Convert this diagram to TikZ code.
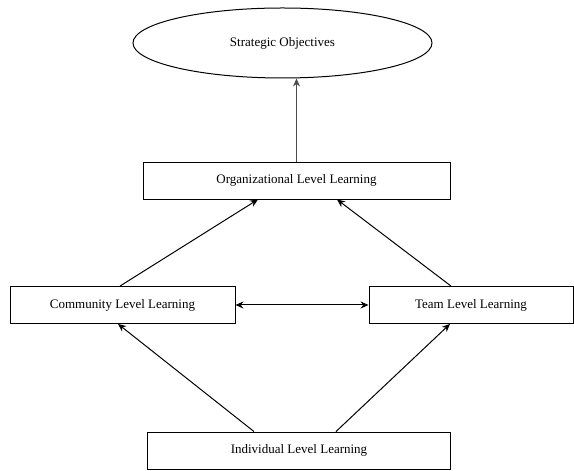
\documentclass[tikz,border=0pt]{standalone}
\usepackage{fontspec}
\setmainfont{Liberation Serif}
\usepackage{tikz}
\usetikzlibrary{arrows.meta,shapes.geometric,positioning}

\begin{document}
\begin{tikzpicture}
  [x=1pt,y=1pt,
   level/.style={draw,rectangle,line width=0.9pt,minimum height=37pt,
                 inner sep=0pt,font=\fontsize{13}{15}\selectfont},
   goal/.style={draw,ellipse,line width=1pt,minimum width=299pt,
                minimum height=70pt,inner sep=0pt,font=\fontsize{13}{15}\selectfont},
   up/.style={->,>={Stealth[length=8pt,width=7pt]},line width=1pt},
   both/.style={<->,>={Stealth[length=8pt,width=7pt]},line width=1pt}]

  \useasboundingbox (0,0) rectangle (574,471);

  \node[goal]                       (strategic) at (282.5,428)   {Strategic Objectives};
  \node[level,minimum width=307pt]  (org)       at (296.5,290.5) {Organizational Level Learning};
  \node[level,minimum width=225pt]  (community) at (122.5,166)   {Community Level Learning};
  \node[level,minimum width=204pt]  (team)      at (471,166)     {Team Level Learning};
  \node[level,minimum width=303pt]  (individual) at (299,20.5)   {Individual Level Learning};

  \draw[up,line width=0.8pt,black!70] (org.north) -- (org.north |- strategic.south);
  \draw[up] ([xshift=-2.5pt]community.north) -- ([xshift=-38.5pt]org.south);
  \draw[up] ([xshift=-20pt]team.north)       -- ([xshift=40.5pt]org.south);
  \draw[up] ([xshift=-45pt]individual.north) -- ([xshift=-4.5pt]community.south);
  \draw[up] ([xshift=37pt]individual.north)  -- ([xshift=-21pt]team.south);
  \draw[both] (community.east) -- (team.west);
\end{tikzpicture}
\end{document}
